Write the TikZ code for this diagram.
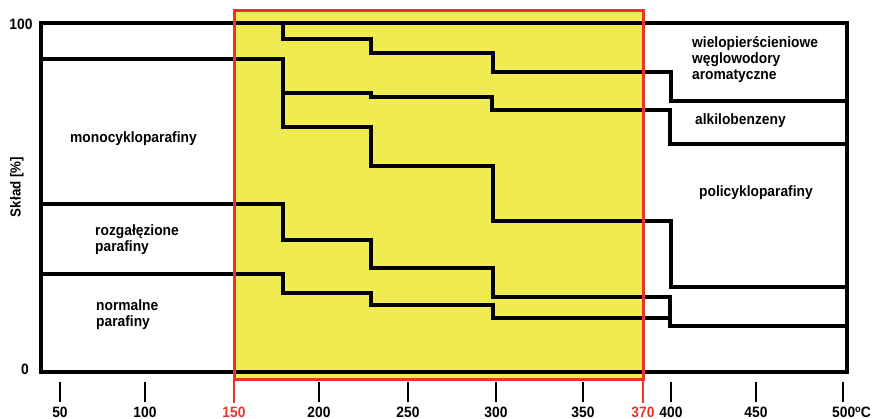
\documentclass[tikz,border=0pt]{standalone}
\usepackage{fontspec}
\setmainfont{Liberation Sans}[FakeStretch=0.92]
\definecolor{hl}{RGB}{241,235,82}
\definecolor{rd}{RGB}{232,52,42}
\begin{document}
\begin{tikzpicture}[x=1pt,y=-1pt,
  bl/.style={line width=3.2pt,line join=miter,black},
  tk/.style={line width=2.4pt,black},
  rk/.style={line width=2.4pt,rd},
  lbl/.style={inner sep=0pt,font=\fontsize{15}{16}\selectfont\bfseries,align=left},
  num/.style={inner sep=0pt,anchor=base,font=\fontsize{15}{16}\selectfont\bfseries}]
\useasboundingbox (0,0) rectangle (873,419);
% highlighted range
\fill[hl] (234,11) rectangle (643,380);
% frame
\draw[bl] (41,23) rectangle (847,372);
% boundaries
\draw[bl] (283,23) -- (283,39) -- (371,39) -- (371,53) -- (493,53) -- (493,72) -- (671,72) -- (671,101) -- (847,101);
\draw[bl] (41,59) -- (283,59) -- (283,127) -- (371,127) -- (371,166) -- (493,166) -- (493,221) -- (671,221) -- (671,287) -- (847,287);
\draw[bl] (283,93) -- (371,93) -- (371,97) -- (492,97) -- (492,110) -- (670,110) -- (670,144) -- (847,144);
\draw[bl] (41,204) -- (283,204) -- (283,240) -- (371,240) -- (371,268) -- (493,268) -- (493,297) -- (670,297) -- (670,326) -- (847,326);
\draw[bl] (41,274) -- (283,274) -- (283,293) -- (371,293) -- (371,305) -- (493,305) -- (493,318) -- (670,318) -- (670,326);
% red range box
\draw[line width=3pt,rd] (234,11) rectangle (643,380);
\draw[rk] (234,380) -- (234,403);
\draw[rk] (643,380) -- (643,403);
% ticks
\foreach \x in {60,145,319,408,496,583,671,756,843}
  \draw[tk] (\x,382) -- (\x,402);
% tick labels
\node[num] (t50) at (60,417.5) {50};
\node[num] (t100) at (145,417.5) {100};
\node[num,text=rd] (t150) at (234,417.5) {150};
\node[num] (t200) at (319,417.5) {200};
\node[num] (t250) at (408,417.5) {250};
\node[num] (t300) at (496,417.5) {300};
\node[num] (t350) at (583,417.5) {350};
\node[num,text=rd] (t370) at (643,417.5) {370};
\node[num] (t400) at (671,417.5) {400};
\node[num] (t450) at (756,417.5) {450};
\node[num,anchor=base west] (t500) at (832,417.5) {500\raisebox{5.5pt}{\fontsize{10}{10}\selectfont o}C};
% y labels
\node[num] (y100) at (21,30) {100};
\node[num] (y0) at (25,375) {0};
\node[inner sep=0pt,rotate=90,font=\fontsize{14.5}{15}\selectfont\bfseries] (ylab) at (17,187) {Skład [\%]};
% region labels
\node[lbl,anchor=base west] (mono) at (70,143) {monocykloparafiny};
\node[lbl,anchor=base west] (rozg) at (95,252) {rozgałęzione\\parafiny};
\node[lbl,anchor=base west] (norm) at (96,327) {normalne\\parafiny};
\node[lbl,anchor=base west] (wiel) at (692,80) {wielopierścieniowe\\węglowodory\\aromatyczne};
\node[lbl,anchor=base west] (alki) at (695,125) {alkilobenzeny};
\node[lbl,anchor=base west] (poli) at (699,197) {policykloparafiny};
\end{tikzpicture}
\end{document}
